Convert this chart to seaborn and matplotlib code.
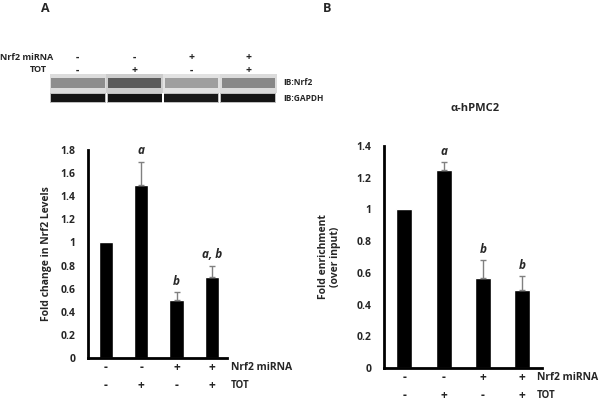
import numpy as np
import pandas as pd
import matplotlib.pyplot as plt
import seaborn as sns

# treatment rows (same for blot lanes and both bar charts)
nrf2_mirna = ['-', '-', '+', '+']
tot = ['-', '+', '-', '+']

# panel A: Nrf2 levels
fold_nrf2 = [1.0, 1.5, 0.5, 0.7]
fold_nrf2_err = [0.0, 0.2, 0.07, 0.1]
marks_a = ['', 'a', 'b', 'a, b']

# panel B: ChIP, alpha-hPMC2
fold_enrich = [1.0, 1.25, 0.57, 0.49]
fold_enrich_err = [0.0, 0.05, 0.11, 0.09]
marks_b = ['', 'a', 'b', 'b']

# western blot band darkness per lane (0 white .. 1 black)
band_nrf2 = [0.5, 0.72, 0.42, 0.52]
band_gapdh = [0.92, 0.92, 0.9, 0.92]

sns.set_style('white')
plt.rcParams['font.family'] = ['Open Sans', 'DejaVu Sans']
plt.rcParams['font.weight'] = 'bold'
plt.rcParams['axes.labelweight'] = 'bold'

W, H = 600, 403
fig = plt.figure(figsize=(6, 4.03), dpi=100)


def px_axes(l, t, r, b):
    return fig.add_axes([l / W, 1 - b / H, (r - l) / W, (b - t) / H])


def bar_panel(ax, vals, errs, marks, ylim, step, xlim, width, row_y, lab_x):
    df = pd.DataFrame({'grp': range(len(vals)), 'val': vals})
    sns.barplot(data=df, x='grp', y='val', color='black', width=width,
                saturation=1, errorbar=None, ax=ax)
    idx = [i for i, e in enumerate(errs) if e > 0]
    ax.errorbar(idx, [vals[i] for i in idx], yerr=[np.zeros(len(idx)), [errs[i] for i in idx]],
                fmt='none', ecolor='#808080', elinewidth=1, capsize=2, capthick=1)
    for i, m in enumerate(marks):
        if m:
            ax.annotate(m, (i, vals[i] + errs[i]), xytext=(0, 3), textcoords='offset points',
                        ha='center', va='bottom', style='italic', fontsize=8.5)
    ax.set_xlim(*xlim)
    ax.set_ylim(*ylim)
    ticks = np.round(np.arange(0, ylim[1] + 1e-9, step), 1)
    ax.set_yticks(ticks)
    ax.set_yticklabels([f'{t:g}' for t in ticks], fontsize=7.5)
    ax.tick_params(axis='y', length=0, pad=9)
    ax.set_xticks([])
    ax.set_xlabel('')
    sns.despine(ax=ax)
    for s in ['left', 'bottom']:
        ax.spines[s].set_linewidth(2)
        ax.spines[s].set_color('black')
    tr = ax.get_xaxis_transform()
    for i in range(len(vals)):
        ax.text(i, row_y[0], nrf2_mirna[i], transform=tr, ha='center', va='center', fontsize=8.5)
        ax.text(i, row_y[1], tot[i], transform=tr, ha='center', va='center', fontsize=8.5)
    ax.text(lab_x, row_y[0], 'Nrf2 miRNA', transform=ax.transAxes, ha='left', va='center', fontsize=7.5)
    ax.text(lab_x, row_y[1], 'TOT', transform=ax.transAxes, ha='left', va='center', fontsize=7)


# panel A bar chart
ax_a = px_axes(88, 150, 227, 358)
bar_panel(ax_a, fold_nrf2, fold_nrf2_err, marks_a, (0, 1.8), 0.2, (-0.51, 3.43), 0.4,
          (-0.048, -0.13), 1.03)
ax_a.set_ylabel('Fold change in Nrf2 Levels', fontsize=7.5)
ax_a.yaxis.set_label_coords(-0.26, 0.5)

# panel B bar chart
ax_b = px_axes(384, 146, 542, 368)
bar_panel(ax_b, fold_enrich, fold_enrich_err, marks_b, (0, 1.4), 0.2, (-0.52, 3.51), 0.41,
          (-0.045, -0.126), 0.968)
ax_b.set_ylabel('Fold enrichment\n(over input)', fontsize=7.5)
ax_b.yaxis.set_label_coords(-0.27, 0.5)
ax_b.text(0.576, 1.167, 'α-hPMC2', transform=ax_b.transAxes, ha='center', va='center', fontsize=8)

# western blot
ax_w = px_axes(50, 74, 280, 106)
lanes = np.arange(4)
ax_w.bar(lanes, 0.6, bottom=0.42, width=1.0,
         color=[str(1 - d * 0.45) for d in band_nrf2], alpha=0.6, linewidth=0)
ax_w.bar(lanes, 0.3, bottom=0.56, width=0.94,
         color=[str(1 - d) for d in band_nrf2], alpha=0.85, linewidth=0)
ax_w.bar(lanes, 0.32, bottom=0.09, width=0.98,
         color=[str(1 - d * 0.55) for d in band_gapdh], alpha=0.5, linewidth=0)
ax_w.bar(lanes, 0.22, bottom=0.14, width=0.95,
         color=[str(1 - d) for d in band_gapdh], linewidth=0)
ax_w.set_xlim(-0.49, 3.56)
ax_w.set_ylim(0, 1)
ax_w.axis('off')
trw = ax_w.get_xaxis_transform()
for i in lanes:
    ax_w.text(i, 1.53, nrf2_mirna[i], transform=trw, ha='center', va='center', fontsize=7.5)
    ax_w.text(i, 1.125, tot[i], transform=trw, ha='center', va='center', fontsize=7.5)
ax_w.text(0.013, 1.53, 'Nrf2 miRNA', transform=ax_w.transAxes, ha='right', va='center', fontsize=6.5)
ax_w.text(-0.013, 1.125, 'TOT', transform=ax_w.transAxes, ha='right', va='center', fontsize=6.5)
ax_w.text(1.013, 0.72, 'IB:Nrf2', transform=ax_w.transAxes, ha='left', va='center', fontsize=6)
ax_w.text(1.013, 0.22, 'IB:GAPDH', transform=ax_w.transAxes, ha='left', va='center', fontsize=6)

fig.text(45 / W, 1 - 8 / H, 'A', ha='center', va='center', fontsize=9)
fig.text(327 / W, 1 - 8 / H, 'B', ha='center', va='center', fontsize=9)

fig.savefig('out.png', dpi=100)
